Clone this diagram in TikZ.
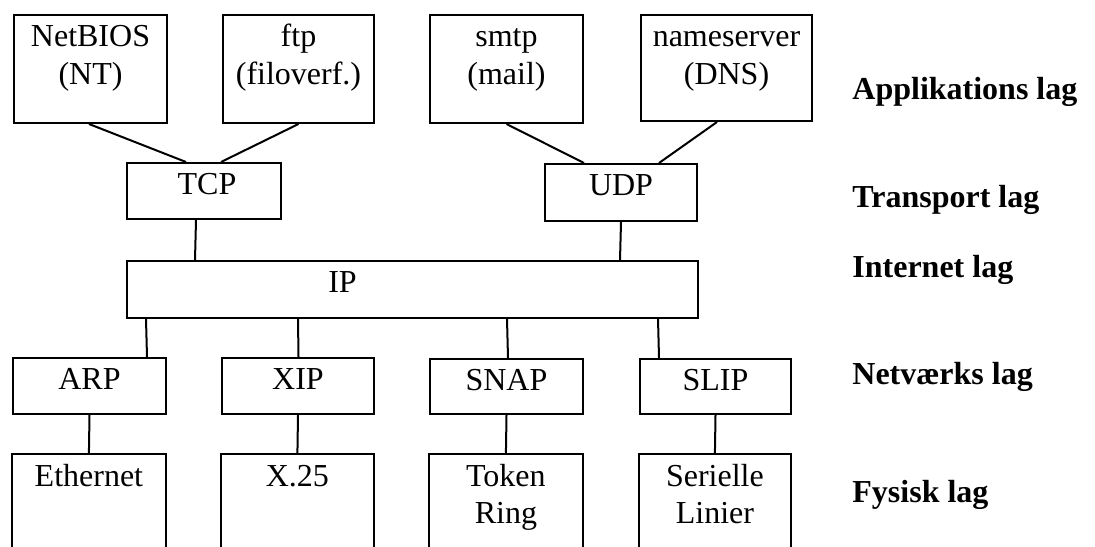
\documentclass[tikz,border=0pt]{standalone}
\usepackage{fontspec}
\setmainfont{Liberation Serif}
\begin{document}
\begin{tikzpicture}[x=0.5pt,y=-0.5pt,
  box/.style={draw, line width=1pt, inner sep=0pt, anchor=north west},
  openbox/.style={inner sep=0pt, anchor=north west},
  conn/.style={line width=1pt},
  lbl/.style={anchor=base, yshift=-16pt, inner sep=0pt, font=\fontsize{16}{19}\selectfont},
  lblb/.style={anchor=base, yshift=-16pt, inner sep=0pt, font=\fontsize{16}{18.5}\selectfont},
  layer/.style={anchor=base west, inner sep=0pt, font=\fontsize{16}{18}\selectfont\bfseries}]
\useasboundingbox (0,0) rectangle (1095,546);
% application layer
\node[box, minimum width=76.5pt, minimum height=54pt] (netbios) at (13,14) {};
\node[box, minimum width=75.5pt, minimum height=54pt] (ftp) at (222,14) {};
\node[box, minimum width=76.5pt, minimum height=54pt] (smtp) at (429,14) {};
\node[box, minimum width=85.5pt, minimum height=53pt] (dns) at (640,14) {};
% transport
\node[box, minimum width=77pt, minimum height=28pt] (tcp) at (126,162) {};
\node[box, minimum width=76pt, minimum height=28.5pt] (udp) at (544,163) {};
% internet
\node[box, minimum width=285.5pt, minimum height=28.5pt] (ip) at (126,260) {};
% network
\node[box, minimum width=76.5pt, minimum height=28pt] (arp) at (12,357) {};
\node[box, minimum width=76pt, minimum height=28pt] (xip) at (221,357) {};
\node[box, minimum width=76.5pt, minimum height=27.5pt] (snap) at (429,358) {};
\node[box, minimum width=75.5pt, minimum height=27.5pt] (slip) at (639,358) {};
% physical (open at bottom)
\node[openbox, minimum width=76.5pt, minimum height=46pt] (eth) at (12,454) {};
\node[openbox, minimum width=76pt, minimum height=46pt] (x25) at (221,454) {};
\node[openbox, minimum width=76.5pt, minimum height=46pt] (tok) at (429,454) {};
\node[openbox, minimum width=75.5pt, minimum height=46pt] (ser) at (639,454) {};
\foreach \n in {eth,x25,tok,ser}
  \draw[conn] (\n.south west) -- (\n.north west) -- (\n.north east) -- (\n.south east);

% texts
\node[lbl] (t-netbios) at (netbios.north) {\begin{tabular}[t]{@{}c@{}}NetBIOS\\(NT)\end{tabular}};
\node[lbl] (t-ftp) at (ftp.north) {\begin{tabular}[t]{@{}c@{}}ftp\\(filoverf.)\end{tabular}};
\node[lbl] (t-smtp) at (smtp.north) {\begin{tabular}[t]{@{}c@{}}smtp\\(mail)\end{tabular}};
\node[lbl] (t-dns) at (dns.north) {\begin{tabular}[t]{@{}c@{}}nameserver\\(DNS)\end{tabular}};
\node[lbl, xshift=1.5pt] (t-tcp) at (tcp.north) {TCP};
\node[lbl] (t-udp) at (udp.north) {UDP};
\node[lbl, xshift=-35pt] (t-ip) at (ip.north) {IP};
\node[lbl] (t-arp) at (arp.north) {ARP};
\node[lbl] (t-xip) at (xip.north) {XIP};
\node[lbl] (t-snap) at (snap.north) {SNAP};
\node[lbl] (t-slip) at (slip.north) {SLIP};
\node[lblb] (t-eth) at (eth.north) {Ethernet};
\node[lblb] (t-x25) at (x25.north) {X.25};
\node[lblb] (t-tok) at (tok.north) {\begin{tabular}[t]{@{}c@{}}Token\\Ring\end{tabular}};
\node[lblb] (t-ser) at (ser.north) {\begin{tabular}[t]{@{}c@{}}Serielle\\Linier\end{tabular}};

% layer names
\node[layer] (l-app) at (852,99) {Applikations lag};
\node[layer] (l-trans) at (852,207) {Transport lag};
\node[layer] (l-inet) at (852,277) {Internet lag};
\node[layer] (l-net) at (852,384) {Netværks lag};
\node[layer] (l-fys) at (852,502) {Fysisk lag};

% connectors
\draw[conn] ([xshift=-0.75pt]netbios.south) -- ([xshift=-9pt]tcp.north);
\draw[conn] (ftp.south) -- ([xshift=8.5pt]tcp.north);
\draw[conn] (smtp.south) -- ([xshift=-18.5pt]udp.north);
\draw[conn] ([xshift=-4.75pt]dns.south) -- ([xshift=19pt]udp.north);
\draw[conn] ([xshift=-4pt]tcp.south) -- ([xshift=34.5pt]ip.north west);
\draw[conn] (udp.south) -- ([xshift=247pt]ip.north west);
\draw[conn] ([xshift=10pt]ip.south west) -- ([xshift=28.75pt]arp.north);
\draw[conn] ([xshift=86pt]ip.south west) -- ([xshift=0.25pt]xip.north);
\draw[conn] ([xshift=190.5pt]ip.south west) -- ([xshift=0.75pt]snap.north);
\draw[conn] ([xshift=266pt]ip.south west) -- ([xshift=-28.25pt]slip.north);
\draw[conn] (arp.south) -- (eth.north);
\draw[conn] (xip.south) -- (x25.north);
\draw[conn] (snap.south) -- (tok.north);
\draw[conn] (slip.south) -- (ser.north);
\end{tikzpicture}
\end{document}
